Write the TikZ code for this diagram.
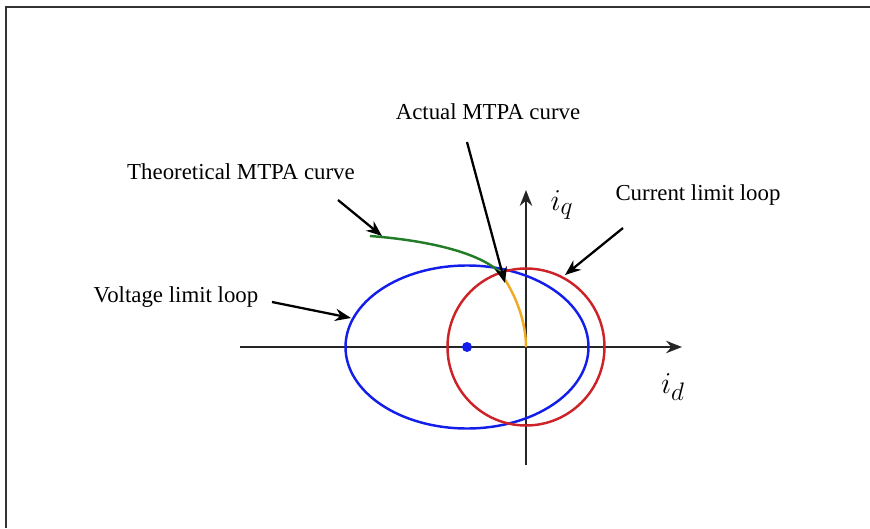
\documentclass[tikz,border=0pt]{standalone}
\usepackage{fontspec}
\setmainfont{Liberation Serif}
\usetikzlibrary{arrows.meta}

\definecolor{loopblue}{RGB}{20,30,235}
\definecolor{loopred}{RGB}{205,35,40}
\definecolor{theogreen}{RGB}{35,125,40}
\definecolor{actorange}{RGB}{240,170,35}

\tikzset{
  label/.style={font=\fontsize{13}{15}\selectfont, inner sep=1pt},
  axislabel/.style={font=\fontsize{19}{21}\selectfont, inner sep=1pt},
  pointer/.style={->, line width=1.3pt},
  loop/.style={line width=1.4pt}
}

\begin{document}
\begin{tikzpicture}[>={Stealth[length=9pt,width=7pt]}]
\useasboundingbox (-10.52,-3.62) rectangle (6.88,6.94);

% Frame
\draw[line width=1.2pt, black!80] (-10.4,-3.62) -- (-10.4,6.8) -- (6.88,6.8);

% Define the axes
\coordinate (O) at (0,0);
\coordinate (dL) at (-5.72,0);
\coordinate (dR) at (3.12,0);
\coordinate (qB) at (0,-2.36);
\coordinate (qT) at (0,3.14);
\draw[->, line width=1.5pt, black!85] (dL) -- (dR);
\draw[->, line width=1.5pt, black!85] (qB) -- (qT);
\node[axislabel] (id) at (2.94,-0.8) {$i_d$};
\node[axislabel] (iq) at (0.72,2.84) {$i_q$};

% Define the loops
\coordinate (C) at (-1.18,0);
\draw[loop, loopblue] (C) ellipse [x radius=2.43, y radius=1.63];
\draw[loop, loopred] (O) circle [radius=1.57];
\fill[loopblue] (C) circle [radius=0.1];

% MTPA curves
\coordinate (J) at (109:1.57);
\coordinate (G) at (-3.12,2.22);
\draw[line width=1.4pt, theogreen] (G) .. controls (-2.2,2.15) and (-1.0,1.95) .. (J);
\draw[line width=1.4pt, actorange] (O) .. controls (0,0.5) and (-0.2,1.05) .. (J);

% Define the labels
\node[label] (AC) at (-0.76,4.7) {Actual MTPA curve};
\node[label] (TC) at (-5.7,3.5) {Theoretical MTPA curve};
\node[label] (VL) at (-7.0,1.0) {Voltage limit loop};
\node[label] (CL) at (3.44,3.04) {Current limit loop};

% Draw the pointers
\coordinate (acS) at (-1.18,4.1);
\coordinate (acE) at (-0.42,1.28);
\coordinate (tcS) at (-3.76,2.94);
\coordinate (tcE) at (-2.88,2.22);
\coordinate (vlS) at (-5.08,0.9);
\coordinate (vlE) at (-3.50,0.58);
\coordinate (clS) at (1.94,2.38);
\coordinate (clE) at (0.78,1.44);
\draw[pointer] (acS) -- (acE);
\draw[pointer] (tcS) -- (tcE);
\draw[pointer] (vlS) -- (vlE);
\draw[pointer] (clS) -- (clE);

\end{tikzpicture}
\end{document}
